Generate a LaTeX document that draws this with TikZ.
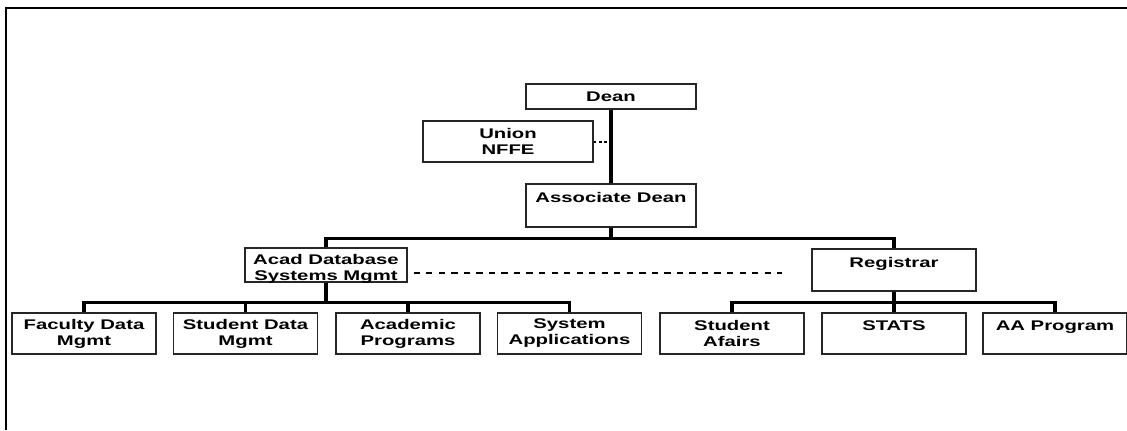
\documentclass[tikz,border=0pt]{standalone}
\usepackage{fontspec}
\newfontfamily\orgfont{Liberation Sans}[FakeStretch=1.45]
\usepackage{tikz}
\usetikzlibrary{positioning, calc}

\begin{document}
\begin{tikzpicture}[x=0.75pt, y=-0.75pt,
    unit/.style={draw=black!85, line width=1pt, align=center, inner sep=0pt,
      minimum width=108pt, minimum height=30.75pt,
      font=\orgfont\bfseries\fontsize{10.5}{12}\selectfont},
    tie/.style={line width=2.3pt},
    dotline/.style={line width=1.5pt, dash pattern=on 2pt off 2pt},
    dashline/.style={line width=1pt, dash pattern=on 4.7pt off 4.7pt}]
    \useasboundingbox (0,0) rectangle (1127,430);
    % frame
    \draw[line width=1.5pt] (6,430) -- (6,8) -- (1127,8);
    % top of the chart
    \node[unit, minimum width=127.5pt, minimum height=18.75pt] (dean) at (611,96.5) {Dean};
    \node[unit, minimum width=127.5pt] (union) at (508,141.5) {Union\\NFFE};
    \node[unit, minimum width=127.5pt, minimum height=32.25pt] (assoc) at (611,205.5) {Associate Dean\\~};
    % second level
    \node[unit, minimum width=121.5pt, minimum height=0pt, text height=24pt, text depth=1.5pt] (acad) at (326,265) {Acad Database\\Systems Mgmt};
    \node[unit, minimum width=123pt, minimum height=31.5pt] (regis) at (894,270) {Registrar\\~};
    % third level
    \node[unit] (faculty) at (84,333.5) {Faculty Data\\Mgmt};
    \node[unit] (student) at (245.5,333.5) {Student Data\\Mgmt};
    \node[unit] (programs) at (408,333.5) {Academic\\Programs};
    \node[unit] (sysapp) at (569.5,333.5) {System\\Applications};
    \node[unit] (afairs) at (732,333.5) {Student\\Afairs};
    \node[unit] (stats) at (894,333.5) {STATS\\~};
    \node[unit] (aaprog) at (1055,333.5) {AA Program\\~};
    % lines
    \draw[tie] (dean.south) -- (assoc.north);
    \draw[dotline] (union.east) -- (union.east -| dean.south);
    \draw[tie] (assoc.south) -- ++(0,11) -| (acad.north);
    \draw[tie] (assoc.south) -- ++(0,11) -| (regis.north);
    \foreach \c in {faculty, student, programs, sysapp}
        \draw[tie] (acad.south) -- ++(0,20) -| (\c.north);
    \foreach \c in {afairs, stats, aaprog}
        \draw[tie] (regis.south) -- ++(0,11) -| (\c.north);
    \coordinate (dashend) at (782,273);
    \draw[dashline] (acad.east |- dashend) ++(6,0) -- (dashend);
\end{tikzpicture}
\end{document}
